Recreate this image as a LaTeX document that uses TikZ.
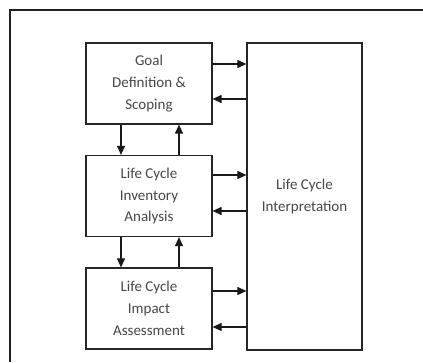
\documentclass[tikz,border=0pt]{standalone}
\usepackage{fontspec}
\setmainfont{Carlito}
\usetikzlibrary{arrows.meta}
\tikzset{
  stagebox/.style={draw=black!85, line width=1.2pt, fill=white, minimum width=126pt, minimum height=81pt, inner sep=0pt, align=center, text=black!72, font=\fontsize{15}{21.7}\selectfont},
  bigbox/.style={draw=black!85, line width=1.2pt, fill=white, minimum width=115pt, minimum height=307pt, inner sep=0pt, align=center, text=black!72, font=\fontsize{15}{21.7}\selectfont},
  flow/.style={draw=black!90, line width=1.1pt, -{Triangle[length=9pt,width=8pt]}},
  frame/.style={draw=black!88, line width=2.4pt}
}
\begin{document}
\begin{tikzpicture}[x=1pt,y=-1pt]
\useasboundingbox (0,0) rectangle (423,362);
\fill[white] (0,0) rectangle (423,362);
\coordinate (fbl) at (10,362);
\coordinate (ftl) at (10,10);
\coordinate (ftr) at (423,10);
\draw[frame] (fbl) -- (ftl) -- (ftr);
\node[stagebox] (goal) at (149,83.5) {Goal\\Definition \&\\Scoping};
\node[stagebox] (lci) at (149,196) {Life Cycle\\Inventory\\Analysis};
\node[stagebox] (lcia) at (149,308.5) {Life Cycle\\Impact\\Assessment};
\node[bigbox] (interp) at (304.5,196.5) {Life Cycle\\Interpretation};
% horizontal arrows
\draw[flow] (goal.east |- 0,64) -- (interp.west |- 0,64);
\draw[flow] (interp.west |- 0,99) -- (goal.east |- 0,99);
\draw[flow] (lci.east |- 0,175) -- (interp.west |- 0,175);
\draw[flow] (interp.west |- 0,211) -- (lci.east |- 0,211);
\draw[flow] (lcia.east |- 0,291) -- (interp.west |- 0,291);
\draw[flow] (interp.west |- 0,327) -- (lcia.east |- 0,327);
% vertical arrows
\draw[flow] (goal.south -| 121,0) -- (lci.north -| 121,0);
\draw[flow] (lci.north -| 179,0) -- (goal.south -| 179,0);
\draw[flow] (lci.south -| 121,0) -- (lcia.north -| 121,0);
\draw[flow] (lcia.north -| 179,0) -- (lci.south -| 179,0);
\end{tikzpicture}
\end{document}
